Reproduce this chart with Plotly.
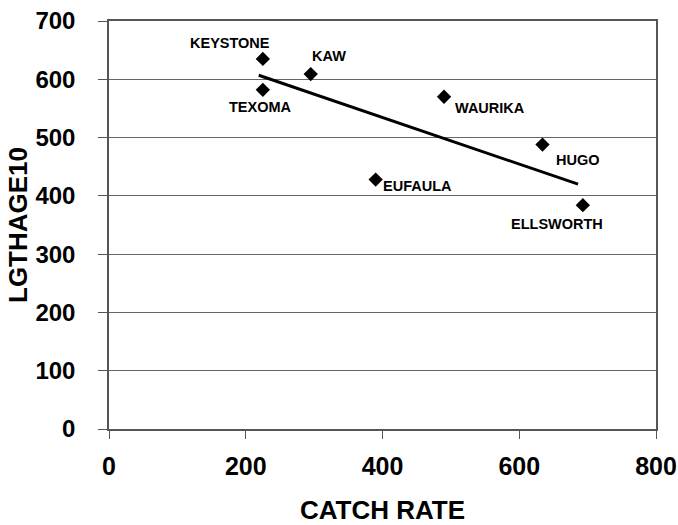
import plotly.graph_objects as go

lakes = ["KEYSTONE", "TEXOMA", "KAW", "WAURIKA", "HUGO", "EUFAULA", "ELLSWORTH"]
catch_rate = [225, 225, 295, 490, 634, 390, 693]
lgthage10 = [635, 582, 609, 570, 488, 428, 384]
fit_x = [219, 686]
fit_y = [607, 420]
label_shift = {
    "KEYSTONE": (-33, 16), "TEXOMA": (-2, -17), "KAW": (18, 18),
    "WAURIKA": (46, -11), "HUGO": (35, -15), "EUFAULA": (42, -6),
    "ELLSWORTH": (-26, -19),
}
x_ticks = [0, 200, 400, 600, 800]
y_ticks = [0, 100, 200, 300, 400, 500, 600, 700]

fig = go.Figure()
fig.add_trace(go.Scatter(x=fit_x, y=fit_y, mode="lines",
                         line=dict(color="black", width=3), showlegend=False))
fig.add_trace(go.Scatter(x=catch_rate, y=lgthage10, mode="markers",
                         marker=dict(symbol="diamond", size=11, color="black"),
                         showlegend=False))
for name, xv, yv in zip(lakes, catch_rate, lgthage10):
    dx, dy = label_shift[name]
    fig.add_annotation(x=xv, y=yv, text=name, showarrow=False, xshift=dx, yshift=dy,
                       font=dict(family="Liberation Sans", size=14.5, color="black", weight="bold"))

x_tick_font = dict(family="Liberation Sans", size=25, color="black", weight="bold")
y_tick_font = dict(family="Liberation Sans", size=24, color="black", weight="bold")
title_font = dict(family="Liberation Sans", size=26, color="black", weight="bold")
fig.update_layout(
    width=678, height=525,
    margin=dict(l=109, r=22, t=21, b=96),
    plot_bgcolor="white", paper_bgcolor="white",
    xaxis=dict(range=[0, 800], tickvals=x_ticks, tickfont=x_tick_font, automargin=False,
               showgrid=False, zeroline=False, showline=True, linecolor="#555", linewidth=1.5,
               ticks="outside", ticklen=8, tickcolor="#555", mirror=True,
               ticklabelstandoff=6,
               title=dict(text="CATCH RATE", standoff=25, font=title_font)),
    yaxis=dict(range=[0, 700], tickvals=y_ticks, tickfont=y_tick_font, automargin=False,
               showgrid=True, gridcolor="#666", gridwidth=1.2, zeroline=False,
               showline=True, linecolor="#555", linewidth=1.5,
               ticks="outside", ticklen=9, tickcolor="#555", mirror=True,
               ticklabelstandoff=18,
               title=dict(text="LGTHAGE10", standoff=0, font=title_font)),
)
fig.write_html("out.html", config={"displayModeBar": False},
               post_script="document.body.style.margin='0';document.body.style.overflow='hidden';")
